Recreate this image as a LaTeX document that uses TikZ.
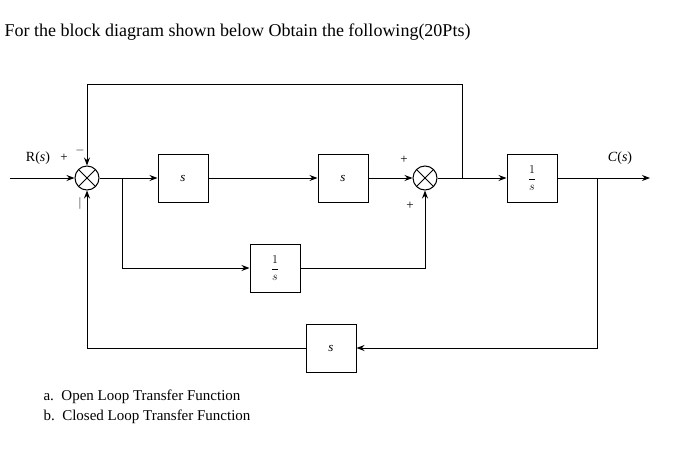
\documentclass[tikz,border=0pt]{standalone}
\usepackage{fontspec}
\setmainfont{Liberation Serif}
\usetikzlibrary{arrows.meta}
\begin{document}
\begin{tikzpicture}[x=1pt,y=-1pt,
  blk/.style={draw,line width=1pt,minimum width=50pt,minimum height=48pt,inner sep=0pt,font=\itshape\fontsize{13}{15}\selectfont},
  sj/.style={draw,line width=1pt,circle,minimum size=24pt,inner sep=0pt,path picture={\draw[line width=1pt] (path picture bounding box.south west)--(path picture bounding box.north east) (path picture bounding box.north west)--(path picture bounding box.south east);}},
  ar/.style={line width=1pt,-{Stealth[length=8pt,width=6pt]}},
  lbl/.style={font=\fontsize{14}{16}\selectfont},
  sg/.style={font=\fontsize{13}{15}\selectfont}]
\useasboundingbox (0,0) rectangle (700,450);
\node[anchor=west,font=\fontsize{18}{20}\selectfont] (title) at (1,32) {For the block diagram shown below Obtain the following(20Pts)};
\node[sj] (j1) at (87,178) {};
\node[blk] (b1) at (183,178) {s};
\node[blk] (b2) at (343,178) {s};
\node[sj] (j2) at (425,178) {};
\node[blk] (b3) at (532,178) {$\displaystyle\frac{1}{s}$};
\node[blk] (b4) at (275,268) {$\displaystyle\frac{1}{s}$};
\node[blk] (b5) at (331,348) {s};
\coordinate (in) at (10,178);
\coordinate (out) at (650,178);
\node[lbl] (R) at (38,158) {R(\textit{s})};
\node[sg] (p1) at (64,158) {+};
\node[sg] (m1) at (80,150) {$-$};
\node[sg] (m2) at (80,203) {$|$};
\node[sg] (p2) at (404,160) {+};
\node[sg] (p3) at (410,206) {+};
\node[lbl] (C) at (620,158) {\textit{C}(\textit{s})};
\draw[ar] (in) -- (j1);
\draw[ar] (j1) -- (b1);
\draw[ar] (b1) -- (b2);
\draw[ar] (b2) -- (j2);
\draw[ar] (j2) -- (b3);
\draw[ar] (b3) -- (out);
\draw[ar] (462,178) -- (462,84) -- (87,84) -- (j1.north);
\draw[ar] (122,178) |- (b4.west);
\draw[ar] (b4.east) -| (j2.south);
\draw[ar] (597,178) |- (b5.east);
\draw[ar] (b5.west) -| (j1.south);
\node[anchor=west,font=\fontsize{15}{17}\selectfont] (ta) at (40,397) {a.\ \ Open Loop Transfer Function};
\node[anchor=west,font=\fontsize{15}{17}\selectfont] (tb) at (40,417) {b.\ \ Closed Loop Transfer Function};
\end{tikzpicture}
\end{document}
